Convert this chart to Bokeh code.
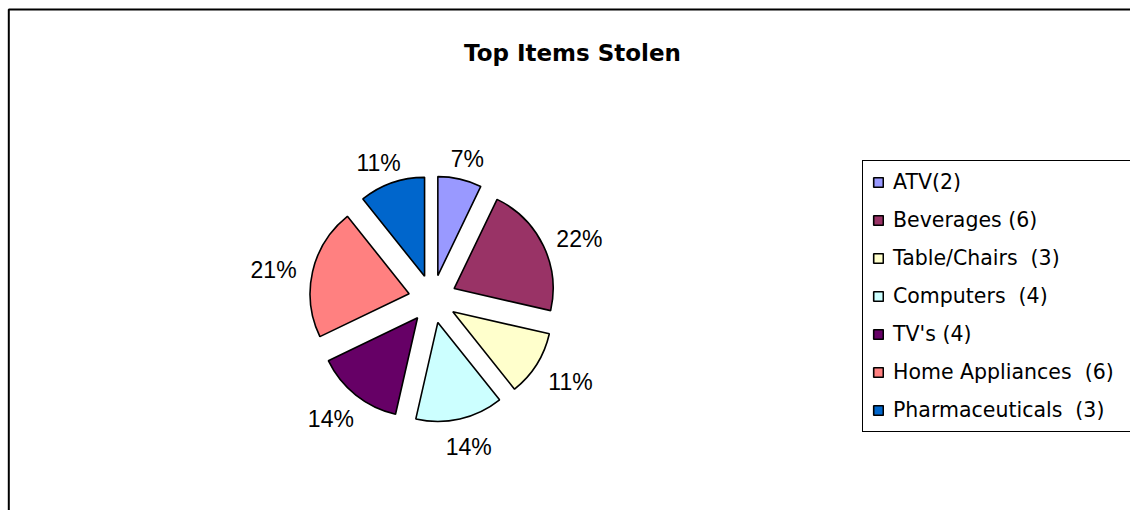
import numpy as np
from bokeh.plotting import figure
from bokeh.models import ColumnDataSource, Range1d, BoxAnnotation, Legend, LegendItem
from bokeh.core.properties import value
from bokeh.embed import file_html
from bokeh.resources import INLINE

# ---- data ----
title_text = "Top Items Stolen"
categories = ["ATV(2)", "Beverages (6)", "Table/Chairs  (3)", "Computers  (4)",
              "TV's (4)", "Home Appliances  (6)", "Pharmaceuticals  (3)"]
counts = [2, 6, 3, 4, 4, 6, 3]
pct_labels = ["7%", "22%", "11%", "14%", "14%", "21%", "11%"]
colors = ["#9999FF", "#993366", "#FFFFCC", "#CCFFFF", "#660066", "#FF8080", "#0066CC"]

# ---- layout constants ----
W, H = 1130, 510
CX, CY = 432.0, 211.5      # pie centre (y up)
R = 99.0                   # radius
EXPLODE = 24.0             # explosion distance
LABEL_R = 140.0
LABEL_FS = 23

vals = np.array(counts, dtype=float)
frac = vals / vals.sum()
cum_end = np.cumsum(frac)
cum_start = cum_end - frac
start = np.pi / 2 - 2 * np.pi * cum_end
end = np.pi / 2 - 2 * np.pi * cum_start
mid = (start + end) / 2
ux, uy = np.cos(mid), np.sin(mid)

src = ColumnDataSource(dict(
    x=CX + EXPLODE * ux, y=CY + EXPLODE * uy,
    start=start, end=end, color=colors, name=categories,
))

# label positions: box pushed outward from anchor radius
tw = np.array([LABEL_FS * (0.556 * (len(s) - 1) + 0.889) for s in pct_labels])
th = 16.0
lab_x = CX + LABEL_R * ux + tw / 2 * ux
lab_y = CY + LABEL_R * uy + th / 2 * uy - th / 2 + 4
lab_src = ColumnDataSource(dict(x=lab_x, y=lab_y, text=pct_labels))

p = figure(width=W, height=H, x_range=Range1d(0, W), y_range=Range1d(0, H),
           min_border=0, toolbar_location=None, output_backend="svg",
           x_axis_location=None, y_axis_location=None)
p.grid.visible = False
p.outline_line_color = None
p.background_fill_color = "white"
p.border_fill_color = "white"

# chart area border
p.add_layout(BoxAnnotation(left=8.3, right=W + 10, top=H - 9, bottom=-10,
                           fill_alpha=0, line_color="black", line_alpha=1.0,
                           line_width=2))

wedges = p.wedge(x="x", y="y", radius=R, start_angle="start", end_angle="end",
                 direction="anticlock", fill_color="color", line_color="black",
                 line_width=1.6, source=src)

p.text(x="x", y="y", text="text", source=lab_src, text_align="center",
       text_baseline="alphabetic", text_font=value("Liberation Sans"),
       text_font_size=f"{LABEL_FS}px", text_color="black")

p.text(x=[572], y=[H - 52.7], text=[title_text], text_align="center",
       text_baseline="alphabetic", text_font=value("DejaVu Sans"),
       text_font_style="bold", text_font_size="23px", text_color="black")

items = [LegendItem(label=categories[i], renderers=[wedges], index=i)
         for i in range(len(categories))]
legend = Legend(items=items, location=(862, H - 432),
                label_text_font="DejaVu Sans", label_text_font_size="20.5px",
                label_text_color="black",
                glyph_width=12, glyph_height=12, label_standoff=9,
                padding=9, spacing=14, label_height=24, label_width=228,
                border_line_color="black", border_line_alpha=1.0,
                border_line_width=1,
                background_fill_color="white", background_fill_alpha=1.0,
                margin=0)
p.add_layout(legend, "center")

open("out.html", "w").write(file_html(p, INLINE))
